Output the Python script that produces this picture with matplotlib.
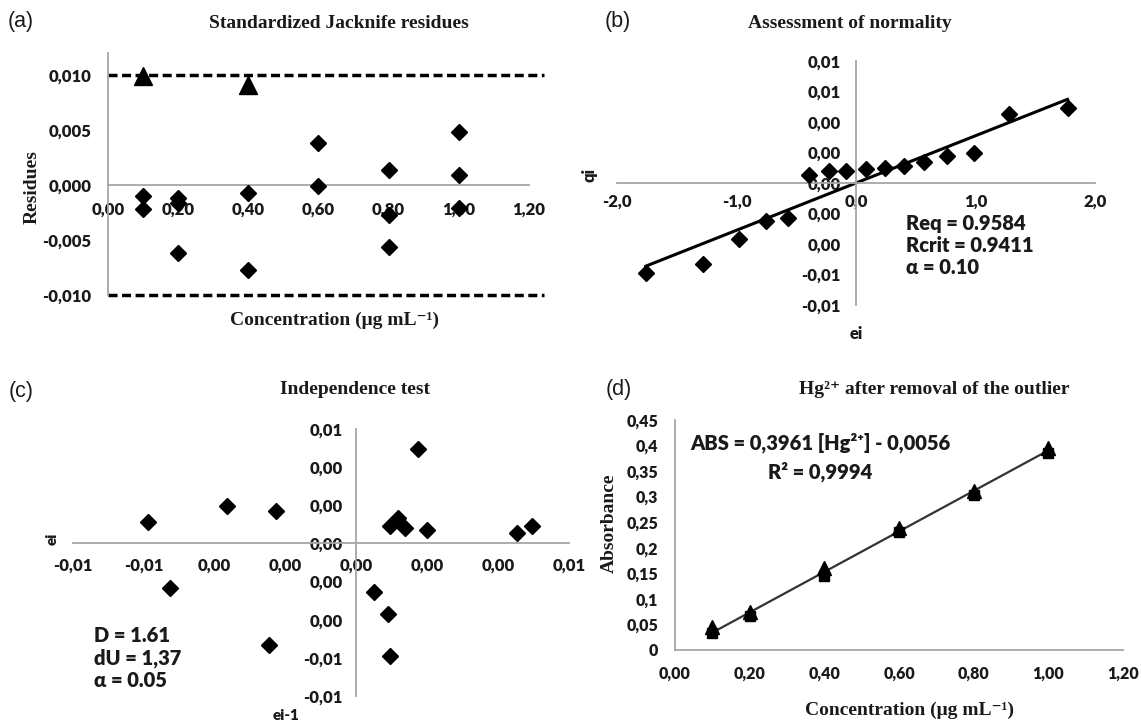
import matplotlib
matplotlib.use("Agg")
import matplotlib.pyplot as plt
import numpy as np

# ---------------- data ----------------
# (a) Standardized Jacknife residues
a_conc = [0.1, 0.1, 0.2, 0.2, 0.2, 0.4, 0.4, 0.6, 0.6, 0.8, 0.8, 0.8, 1.0, 1.0, 1.0]
a_resid = [-0.0010, -0.0022, -0.0012, -0.0016, -0.0062, -0.0007, -0.0077,
           0.0038, -0.0001, 0.0014, -0.0027, -0.0056, 0.0048, 0.0009, -0.0021]
a_out_conc = [0.1, 0.4]
a_out_resid = [0.0099, 0.0091]
a_limits = [0.010, -0.010]
a_xticks = [0.0, 0.2, 0.4, 0.6, 0.8, 1.0, 1.2]
a_xticklabels = ["0,00", "0,20", "0,40", "0,60", "0,80", "1,00", "1,20"]
a_yticks = [-0.010, -0.005, 0.0, 0.005, 0.010]
a_yticklabels = ["-0,010", "-0,005", "0,000", "0,005", "0,010"]

# (b) Assessment of normality
b_ei = [-1.76, -1.28, -0.98, -0.75, -0.57, -0.39, -0.23, -0.08,
        0.08, 0.24, 0.40, 0.57, 0.76, 0.99, 1.28, 1.77]
b_qi = [-0.0059, -0.0053, -0.00365, -0.0025, -0.0023, 0.0005, 0.00077, 0.0008,
        0.00094, 0.00098, 0.00114, 0.00136, 0.00175, 0.00197, 0.00455, 0.0049]
b_slope = 0.00310
b_intercept = 0.0
b_xticks = [-2.0, -1.0, 0.0, 1.0, 2.0]
b_xticklabels = ["-2,0", "-1,0", "0,0", "1,0", "2,0"]
b_yticks = [-0.008, -0.006, -0.004, -0.002, 0.0, 0.002, 0.004, 0.006, 0.008]
b_yticklabels = ["-0,01", "-0,01", "0,00", "0,00", "0,00", "0,00", "0,00", "0,01", "0,01"]

# (c) Independence test
c_eprev = [-0.00588, -0.00364, -0.00228, 0.00175, 0.00095, 0.00118, 0.00136, 0.00198,
           0.00454, 0.00495, -0.00527, 0.00051, 0.00088, -0.00248, 0.00095]
c_ei = [0.00114, 0.00198, 0.00170, 0.00496, 0.00093, 0.00135, 0.00082, 0.00070,
        0.00053, 0.00093, -0.00233, -0.00254, -0.00368, -0.00532, -0.00588]
c_xticks = [-0.008, -0.006, -0.004, -0.002, 0.0, 0.002, 0.004, 0.006]
c_xticklabels = ["-0,01", "-0,01", "0,00", "0,00", "0,00", "0,00", "0,00", "0,01"]
c_yticks = [-0.008, -0.006, -0.004, -0.002, 0.0, 0.002, 0.004, 0.006]
c_yticklabels = ["-0,01", "-0,01", "0,00", "0,00", "0,00", "0,00", "0,00", "0,01"]

# (d) Hg2+ calibration after removal of the outlier
d_conc = [0.1, 0.2, 0.4, 0.6, 0.8, 1.0]
d_abs_tri = [0.045, 0.075, 0.161, 0.238, 0.311, 0.395]
d_abs_sq = [0.033, 0.067, 0.145, 0.231, 0.304, 0.386]
d_slope = 0.3961
d_intercept = -0.0056
d_xticks = [0.0, 0.2, 0.4, 0.6, 0.8, 1.0, 1.2]
d_xticklabels = ["0,00", "0,20", "0,40", "0,60", "0,80", "1,00", "1,20"]
d_yticks = [0, 0.05, 0.1, 0.15, 0.2, 0.25, 0.3, 0.35, 0.4, 0.45]
d_yticklabels = ["0", "0,05", "0,1", "0,15", "0,2", "0,25", "0,3", "0,35", "0,4", "0,45"]

# ---------------- style ----------------
W, H = 1141, 722
fig = plt.figure(figsize=(W / 100, H / 100), dpi=100)
SANS = ["Lato", "DejaVu Sans"]
SERIF = ["Liberation Serif", "DejaVu Serif"]
AXC = "#a6a6a6"
TXT = "#1a1a1a"
TW = "heavy"


def px_axes(x0, x1, ytop, ybot):
    return fig.add_axes([x0 / W, 1 - ybot / H, (x1 - x0) / W, (ybot - ytop) / H])


def style_axes(ax, xticks, xlabels, yticks, ylabels, xpad, ypad, at_zero=True, fs=12):
    for s in ["top", "right"]:
        ax.spines[s].set_visible(False)
    for s in ["left", "bottom"]:
        ax.spines[s].set_color(AXC)
        ax.spines[s].set_linewidth(1.3)
        if at_zero:
            ax.spines[s].set_position(("data", 0))
    ax.set_xticks(xticks)
    ax.set_xticklabels(xlabels)
    ax.set_yticks(yticks)
    ax.set_yticklabels(ylabels)
    ax.tick_params(axis="x", length=0, pad=xpad)
    ax.tick_params(axis="y", length=0, pad=ypad)
    for lab in ax.get_xticklabels() + ax.get_yticklabels():
        lab.set_fontfamily(SANS)
        lab.set_fontweight(TW)
        lab.set_fontsize(fs)
        lab.set_color(TXT)
    ax.patch.set_alpha(0)


def ptext(x, y, s, **kw):
    fig.text(x / W, 1 - y / H, s, **kw)


TITLE = dict(family=SERIF, fontweight="bold", fontsize=14, color=TXT, ha="center", va="center")
LETTER = dict(family=["Liberation Sans", "DejaVu Sans"], fontsize=15.5, color=TXT,
              ha="center", va="center")
NOTE = dict(family=SANS, fontweight=TW, color=TXT)

# ---------------- (a) ----------------
axa = px_axes(108, 544, 53, 295)
axa.set_xlim(0, 1.243)
axa.set_ylim(-0.010, 0.012)
style_axes(axa, a_xticks, a_xticklabels, a_yticks, a_yticklabels, xpad=12, ypad=12)
axa.spines["bottom"].set_bounds(0, 1.2)
for lim in a_limits:
    axa.axhline(lim, color="black", lw=2.5, ls=(0, (2.6, 1.3)), clip_on=False, zorder=2)
axa.plot(a_conc, a_resid, ls="none", marker="D", ms=8, color="black", zorder=3)
axa.plot(a_out_conc, a_out_resid, ls="none", marker="^", ms=13, color="black", zorder=3,
         clip_on=False)
ptext(21, 22, "(a)", **LETTER)
ptext(339, 23, "Standardized Jacknife residues", **TITLE)
ptext(334, 320, "Concentration (μg mL⁻¹)", **TITLE)
ptext(32, 187, "Residues", rotation=90, **TITLE)

# ---------------- (b) ----------------
axb = px_axes(617, 1095, 61, 305)
axb.set_xlim(-2, 2)
axb.set_ylim(-0.008, 0.008)
style_axes(axb, b_xticks, b_xticklabels, b_yticks, b_yticklabels, xpad=8, ypad=11)
xs = np.array([min(b_ei), max(b_ei)])
axb.plot(xs, b_slope * xs + b_intercept, color="black", lw=2.2, zorder=2)
axb.plot(b_ei, b_qi, ls="none", marker="D", ms=8, color="black", zorder=3)
axb.text(0.42, -0.0041, "Req = 0.9584\nRcrit = 0.9411\nα = 0.10", fontsize=14.5,
         va="center", ha="left", linespacing=1.2, **NOTE)
ptext(618, 22, "(b)", **LETTER)
ptext(850, 23, "Assessment of normality", **TITLE)
ptext(590, 175, "qi", rotation=90, fontsize=12, ha="center", va="center", **NOTE)
ptext(856, 334, "ei", fontsize=12, ha="center", va="center", **NOTE)

# ---------------- (c) ----------------
axc = px_axes(73, 569, 429, 696)
axc.set_xlim(-0.008, 0.006)
axc.set_ylim(-0.008, 0.006)
style_axes(axc, c_xticks, c_xticklabels, c_yticks, c_yticklabels, xpad=10, ypad=10)
axc.plot(c_eprev, c_ei, ls="none", marker="D", ms=8, color="black", zorder=3, clip_on=False)
axc.text(-0.0074, -0.0060, "D = 1.61\ndU = 1,37\nα = 0.05", fontsize=14.5,
         va="center", ha="left", linespacing=1.2, **NOTE)
ptext(21, 391, "(c)", **LETTER)
ptext(355, 390, "Independence test", **TITLE)
ptext(52, 539, "ei", rotation=90, fontsize=11, ha="center", va="center", **NOTE)
ptext(286, 716, "ei-1", fontsize=11, ha="center", va="center", **NOTE)

# ---------------- (d) ----------------
axd = px_axes(675, 1123, 420, 650)
axd.set_xlim(0, 1.2)
axd.set_ylim(0, 0.45)
style_axes(axd, d_xticks, d_xticklabels, d_yticks, d_yticklabels, xpad=11, ypad=12,
           at_zero=False, fs=11.5)
xd = np.array([min(d_conc), max(d_conc)])
axd.plot(xd, d_slope * xd + d_intercept, color="#333333", lw=1.6, zorder=2)
axd.plot(d_conc, d_abs_sq, ls="none", marker="s", ms=7.5, color="black", zorder=3)
axd.plot(d_conc, d_abs_tri, ls="none", marker="^", ms=9.5, color="black", zorder=3)
axd.text(0.04, 0.405, "ABS = 0,3961 [Hg²⁺] - 0,0056", fontsize=14.5,
         va="center", ha="left", **NOTE)
axd.text(0.39, 0.349, "R² = 0,9994", fontsize=14.5, va="center", ha="center", **NOTE)
ptext(619, 389, "(d)", **LETTER)
ptext(934, 389, "Hg²⁺ after removal of the outlier", **TITLE)
ptext(910, 710, "Concentration (μg mL⁻¹)", **TITLE)
ptext(609, 523, "Absorbance", rotation=90, **TITLE)

fig.savefig("out.png", dpi=100)
